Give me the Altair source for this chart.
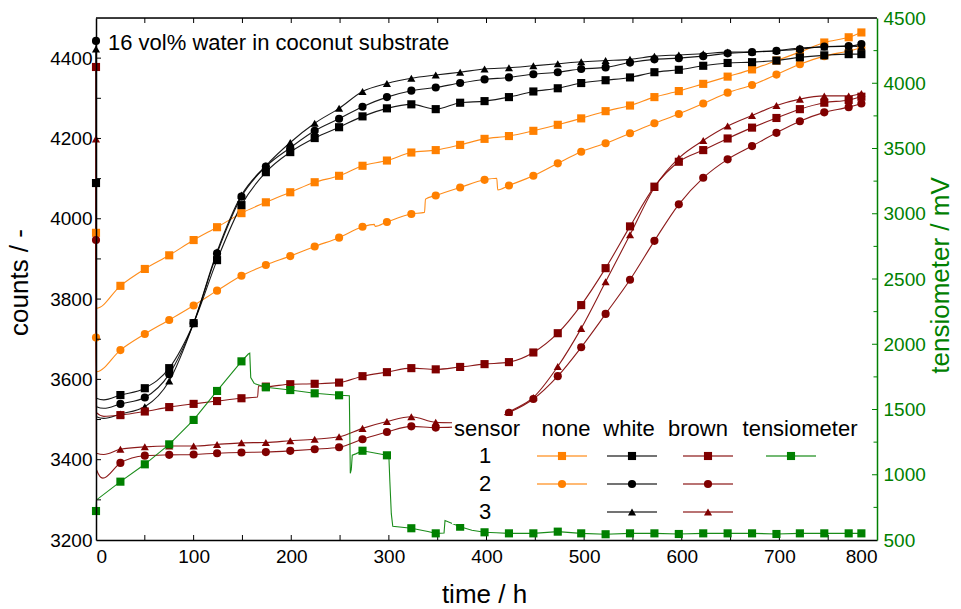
import altair as alt
import pandas as pd

FONT = "Liberation Sans"
ORANGE = "#ff8000"
BROWN = "#800000"
GREEN = "#008000"
BLACK = "#000000"

# marker times (h)
TIME = [0, 25, 50, 75, 100, 124, 149, 174, 199, 224, 249, 273, 298, 323, 348,
        373, 398, 423, 448, 473, 497, 522, 547, 572, 597, 622, 647, 672, 697,
        721, 746, 771, 784]

# counts at the marker times
NONE_1 = [3965, 3833, 3875, 3909, 3947, 3979, 4014, 4041, 4066, 4091, 4107, 4132,
          4145, 4165, 4171, 4184, 4199, 4206, 4219, 4234, 4250, 4268, 4282, 4303,
          4318, 4336, 4354, 4372, 4394, 4415, 4439, 4452, 4464]
NONE_2 = [3704, 3673, 3713, 3748, 3784, 3821, 3858, 3885, 3907, 3931, 3953, 3980,
          3992, 4012, 4058, 4078, 4097, 4083, 4107, 4138, 4167, 4188, 4213, 4238,
          4261, 4287, 4314, 4333, 4359, 4385, 4405, 4418, 4426]
WHITE_1 = [4089, 3561, 3578, 3628, 3740, 3897, 4034, 4116, 4166, 4201, 4228, 4255,
           4275, 4285, 4273, 4289, 4293, 4303, 4317, 4325, 4338, 4345, 4352, 4365,
           4371, 4381, 4388, 4390, 4394, 4402, 4407, 4410, 4410]
WHITE_2 = [4443, 3539, 3555, 3613, 3740, 3914, 4055, 4130, 4177, 4219, 4249, 4279,
           4303, 4319, 4327, 4338, 4347, 4352, 4360, 4365, 4373, 4377, 4389, 4397,
           4400, 4405, 4412, 4415, 4418, 4422, 4429, 4430, 4435]
WHITE_3 = [4423, 3514, 3532, 3596, 3740, 3918, 4059, 4132, 4190, 4238, 4275, 4317,
           4337, 4350, 4358, 4365, 4373, 4376, 4381, 4386, 4391, 4394, 4397, 4405,
           4408, 4411, 4415, 4416, 4419, 4425, 4428, 4430, 4429]
BROWN_1 = [4378, 3511, 3520, 3531, 3539, 3546, 3553, 3582, 3588, 3589, 3592, 3608,
           3618, 3628, 3625, 3631, 3638, 3643, 3667, 3715, 3785, 3877, 3981, 4080,
           4142, 4171, 4200, 4227, 4251, 4273, 4289, 4296, 4304]
BROWN_2 = [3947, 3392, 3410, 3412, 3413, 3416, 3418, 3419, 3422, 3426, 3431, 3451,
           3469, 3483, 3480, None, None, 3517, 3551, 3608, 3680, 3763, 3848, 3945,
           4036, 4102, 4148, 4181, 4214, 4243, 4265, 4278, 4287]
BROWN_3 = [4199, 3426, 3432, 3434, 3434, 3438, 3442, 3443, 3447, 3451, 3457, 3478,
           3495, 3507, 3493, None, None, 3519, 3555, 3632, 3727, 3843, 3960, 4078,
           4151, 4195, 4231, 4257, 4282, 4298, 4306, 4306, 4312]

# tensiometer voltage (mV) at the marker times
TENSIO = [722, 947, 1080, 1233, 1420, 1642, 1869, 1670, 1649, 1624, 1609, 1184,
          1149, 590, 551, 602, 559, 551, 551, 564, 551, 544, 551, 551, 546, 551,
          551, 551, 546, 551, 551, 551, 551]

# additional line vertices between markers (time, value)
NONE_1_LINE = [(0.5, 3777)]
NONE_2_LINE = [(0.5, 3619), (285, 3986), (286, 3981), (336.5, 4016), (337.5, 4049),
               (410.5, 4101), (411.5, 4072)]
WHITE_1_LINE = [(0.5, 3553), (8, 3549)]
WHITE_2_LINE = [(0.5, 3532), (8, 3528)]
WHITE_3_LINE = [(0.5, 3507), (8, 3503)]
BROWN_1_LINE = [(0.5, 3517), (8, 3508), (165.5, 3556), (166.5, 3584)]
BROWN_2_LINE = [(0.5, 3375), (7, 3354), (366, 3481), (418.5, 3512)]
BROWN_3_LINE = [(0.5, 3416), (8, 3413), (366, 3492), (418.5, 3512)]
TENSIO_LINE = [(0.5, 807), (156, 1925), (157.5, 1931), (158.5, 1745), (162, 1700),
               (259.5, 1605), (260.5, 1011), (261.5, 1040), (262.5, 1150),
               (266, 1160), (300, 1140), (301, 950), (302.5, 700), (304, 605),
               (340, 565), (356.5, 553), (357.5, 650), (385, 575), (410, 555)]

SERIES = [
    ("none 1", NONE_1, NONE_1_LINE),
    ("none 2", NONE_2, NONE_2_LINE),
    ("white 1", WHITE_1, WHITE_1_LINE),
    ("white 2", WHITE_2, WHITE_2_LINE),
    ("white 3", WHITE_3, WHITE_3_LINE),
    ("brown 1", BROWN_1, BROWN_1_LINE),
    ("brown 2", BROWN_2, BROWN_2_LINE),
    ("brown 3", BROWN_3, BROWN_3_LINE),
]
GAP_AFTER = {"brown 2": 390, "brown 3": 390}

DOMAIN = ["none 1", "none 2", "white 1", "white 2", "white 3",
          "brown 1", "brown 2", "brown 3", "tensiometer"]
COLORS = [ORANGE, ORANGE, BLACK, BLACK, BLACK, BROWN, BROWN, BROWN, GREEN]
SHAPES = ["square", "circle", "square", "circle", "triangle-up",
          "square", "circle", "triangle-up", "square"]
SHAPE_OF = dict(zip(DOMAIN, SHAPES))
COLOR_OF = dict(zip(DOMAIN, COLORS))


def tables(name, values, extra):
    pts = [(t, v) for t, v in zip(TIME, values) if v is not None]
    gap = GAP_AFTER.get(name)
    line_rows = []
    for t, v in sorted(pts + extra):
        seg = name + ("-b" if gap is not None and t > gap else "-a")
        line_rows.append({"series": name, "t": t, "v": v, "seg": seg})
    pt_rows = [{"series": name, "t": t, "v": v} for t, v in pts]
    return line_rows, pt_rows


count_lines, count_pts = [], []
for name, vals, extra in SERIES:
    a, b = tables(name, vals, extra)
    count_lines += a
    count_pts += b
count_lines = pd.DataFrame(count_lines)
count_pts = pd.DataFrame(count_pts)
tens_lines, tens_pts = tables("tensiometer", TENSIO, TENSIO_LINE)
tens_lines = pd.DataFrame(tens_lines)
tens_pts = pd.DataFrame(tens_pts)

W, H = 781, 522
MARK_SIZE = 66

color_scale = alt.Scale(domain=DOMAIN, range=COLORS)
shape_scale = alt.Scale(domain=DOMAIN, range=SHAPES)
color = alt.Color("series:N", scale=color_scale, legend=None)
shape = alt.Shape("series:N", scale=shape_scale, legend=None)

x_axis = alt.Axis(values=list(range(0, 801, 100)), format="d", title="time / h",
                  ticks=False, tickSize=0, grid=False, domainColor=BLACK,
                  domainWidth=1.5, labelPadding=7, labelFontSize=19,
                  labelColor=BLACK, titleFontSize=26, titleColor=BLACK,
                  titleFontWeight="normal", titleX=388, titleY=54,
                  titleBaseline="middle", titleAlign="center", zindex=1)
y_left_axis = alt.Axis(values=list(range(3200, 4401, 200)), format="d",
                       title="counts / -", ticks=False, tickSize=0, grid=False,
                       domainColor=BLACK, domainWidth=1.5, labelPadding=4,
                       labelFontSize=19, labelColor=BLACK, titleFontSize=26,
                       titleFontWeight="normal", titleColor=BLACK,
                       titleAngle=270, titleX=-77, titleY=264,
                       titleAlign="center", titleBaseline="middle", zindex=1)
y_right_axis = alt.Axis(orient="right", values=list(range(500, 4501, 500)),
                        format="d", title="tensiometer / mV", ticks=False,
                        tickSize=0, grid=False, domainColor=GREEN,
                        domainWidth=1.5, labelPadding=6, labelFontSize=19,
                        labelColor=GREEN, titleFontSize=26,
                        titleFontWeight="normal", titleColor=GREEN,
                        titleAngle=270, titleX=63, titleY=257,
                        titleAlign="center", titleBaseline="middle", zindex=1)

x_scale = alt.Scale(domain=[0, 800], nice=False, zero=False)
yl_scale = alt.Scale(domain=[3200, 4500], nice=False, zero=False)
yr_scale = alt.Scale(domain=[500, 4500], nice=False, zero=False)

X = alt.X("t:Q", scale=x_scale, axis=x_axis)
YL = alt.Y("v:Q", scale=yl_scale, axis=y_left_axis)
YR = alt.Y("v:Q", scale=yr_scale, axis=y_right_axis)

# sensor count curves
lines_c = alt.Chart(count_lines).mark_line(
    interpolate="monotone", strokeWidth=1.1, opacity=0.9
).encode(x=X, y=YL, color=color, detail="seg:N", order="t:Q")
points_c = alt.Chart(count_pts).mark_point(
    filled=True, opacity=1, size=MARK_SIZE, strokeWidth=0
).encode(x=X, y=YL, color=color, shape=shape)

# inward ticks on the left, bottom and top frame
x_minor = pd.DataFrame({"t": list(range(50, 800, 50))})
y_minor = pd.DataFrame({"v": list(range(3300, 4500, 100))})
ticks_left = alt.Chart(y_minor).mark_rule(color=BLACK, strokeWidth=1).encode(
    y=YL, x=alt.value(0), x2=alt.value(5))
ticks_bottom = alt.Chart(x_minor).mark_rule(color=BLACK, strokeWidth=1).encode(
    x=X, y=alt.value(H), y2=alt.value(H - 5))
ticks_top = alt.Chart(x_minor).mark_rule(color=BLACK, strokeWidth=1).encode(
    x=X, y=alt.value(0), y2=alt.value(5))

counts_layer = alt.layer(lines_c, points_c, ticks_left, ticks_bottom, ticks_top)

# tensiometer curve on the right axis
lines_t = alt.Chart(tens_lines).mark_line(strokeWidth=1.1, opacity=0.9).encode(
    x=X, y=YR, color=color, order="t:Q")
points_t = alt.Chart(tens_pts).mark_point(
    filled=True, opacity=1, size=MARK_SIZE, strokeWidth=0
).encode(x=X, y=YR, color=color, shape=shape)
r_major = pd.DataFrame({"v": list(range(1000, 4500, 500))})
r_minor = pd.DataFrame({"v": list(range(750, 4500, 500))})
ticks_r_major = alt.Chart(r_major).mark_rule(color=GREEN, strokeWidth=1).encode(
    y=YR, x=alt.value(W), x2=alt.value(W - 5))
ticks_r_minor = alt.Chart(r_minor).mark_rule(color=GREEN, strokeWidth=1).encode(
    y=YR, x=alt.value(W), x2=alt.value(W - 3.5))
tens_layer = alt.layer(lines_t, points_t, ticks_r_major, ticks_r_minor)

one = pd.DataFrame({"k": [0]})
overlay = []
overlay.append(alt.Chart(one).mark_rule(color=BLACK, strokeWidth=1.5).encode(
    x=alt.value(0), x2=alt.value(W), y=alt.value(0)))
overlay.append(alt.Chart(one).mark_text(
    text="16 vol% water in coconut substrate", fontSize=22, align="left",
    baseline="middle", color=BLACK).encode(x=alt.value(12), y=alt.value(25)))

# legend table: header, row numbers, line+symbol samples
overlay.append(alt.Chart(one).mark_rect(fill="white", stroke=None).encode(
    x=alt.value(356), x2=alt.value(772), y=alt.value(398), y2=alt.value(506)))
HEADER = [("sensor", 391), ("none", 470), ("white", 533), ("brown", 602),
          ("tensiometer", 704)]
for label, px in HEADER:
    overlay.append(alt.Chart(one).mark_text(
        text=label, fontSize=22, align="center", baseline="middle",
        color=BLACK).encode(x=alt.value(px), y=alt.value(411)))
ROW_Y = {"1": 438, "2": 466, "3": 494}
for label, py in ROW_Y.items():
    overlay.append(alt.Chart(one).mark_text(
        text=label, fontSize=22, align="center", baseline="middle",
        color=BLACK).encode(x=alt.value(389), y=alt.value(py)))
COL_X = {"none": 466, "white": 536, "brown": 612, "tensiometer": 695}
for name in DOMAIN:
    col = name.split(" ")[0]
    row = name.split(" ")[1] if " " in name else "1"
    cx, cy = COL_X[col], ROW_Y[row]
    overlay.append(alt.Chart(one).mark_rule(
        color=COLOR_OF[name], strokeWidth=2, opacity=0.55).encode(
        x=alt.value(cx - 25), x2=alt.value(cx + 25), y=alt.value(cy)))
    overlay.append(alt.Chart(one).mark_point(
        shape=SHAPE_OF[name], filled=True, fill=COLOR_OF[name], opacity=1,
        size=MARK_SIZE, strokeWidth=0).encode(x=alt.value(cx), y=alt.value(cy)))

chart = alt.layer(counts_layer, tens_layer, *overlay).resolve_scale(
    y="independent"
).properties(
    width=W, height=H,
    padding={"left": 96, "top": 18, "right": 84, "bottom": 69},
    autosize=alt.AutoSizeParams(type="none"),
).configure_view(stroke=None).configure_axis(
    labelFont=FONT, titleFont=FONT, titleFontWeight="normal"
).configure_text(font=FONT).configure(background="white")

chart.save("out.html", embed_options={"renderer": "svg", "actions": False})
